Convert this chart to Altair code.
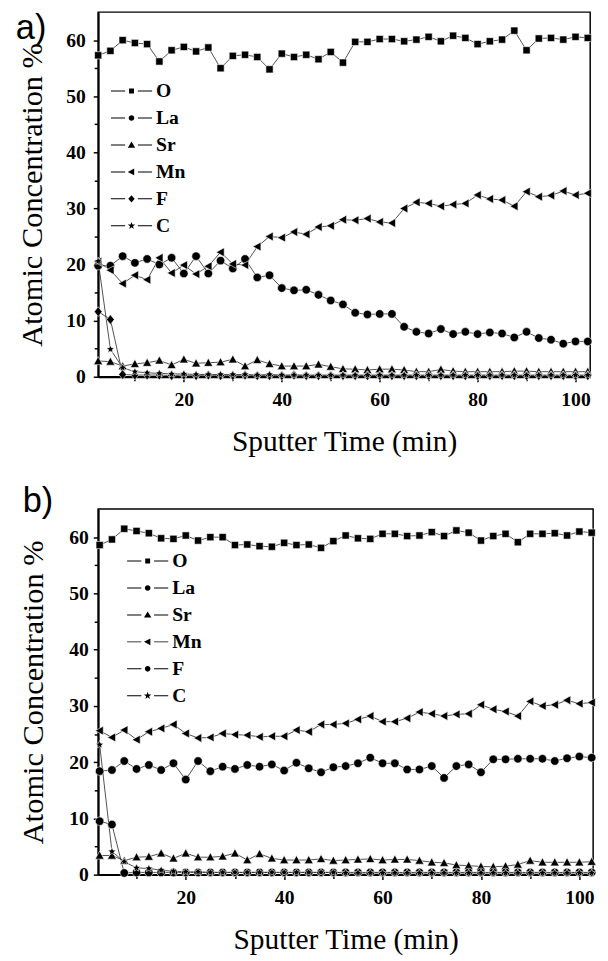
import altair as alt
import pandas as pd

TIME = [2.5, 5, 7.5, 10, 12.5, 15, 17.5, 20, 22.5, 25, 27.5, 30, 32.5, 35, 37.5, 40,
        42.5, 45, 47.5, 50, 52.5, 55, 57.5, 60, 62.5, 65, 67.5, 70, 72.5, 75, 77.5, 80,
        82.5, 85, 87.5, 90, 92.5, 95, 97.5, 100, 102.5]
ELEMENTS = ["O", "La", "Sr", "Mn", "F", "C"]

# ---- panel a) ----
A_O = [57.3, 58.1, 60.0, 59.5, 59.3, 56.2, 58.2, 58.8, 58.0, 58.7,
       55.0, 57.2, 57.4, 57.0, 54.8, 57.6, 57.0, 57.4, 56.6, 57.9,
       56.0, 59.7, 59.7, 60.2, 60.2, 59.8, 60.1, 60.6, 59.8, 60.8,
       60.4, 59.3, 59.8, 60.1, 61.7, 58.2, 60.3, 60.4, 60.1, 60.6, 60.4]
A_LA = [19.8, 19.8, 21.5, 20.3, 21.0, 20.0, 21.2, 18.4, 21.5, 18.4,
        20.7, 19.3, 21.0, 17.7, 18.1, 15.8, 15.4, 15.5, 14.6, 13.6,
        12.9, 11.4, 11.1, 11.2, 11.2, 8.9, 8.0, 7.7, 8.5, 7.6,
        8.0, 7.6, 7.9, 7.7, 7.0, 8.0, 6.9, 6.6, 5.9, 6.3, 6.3]
A_SR = [2.8, 2.7, 1.9, 2.3, 2.5, 2.9, 2.1, 3.1, 2.4, 2.5,
        2.6, 3.1, 1.9, 3.0, 2.3, 1.9, 1.9, 1.9, 2.2, 1.8,
        1.4, 1.35, 1.2, 1.35, 1.35, 1.2, 0.9, 0.9, 1.3, 1.0,
        0.9, 0.9, 0.9, 0.9, 1.0, 1.0, 0.9, 0.9, 0.9, 0.9, 0.9]
A_MN = [20.5, 19.0, 16.6, 18.1, 17.3, 21.2, 18.5, 19.9, 18.3, 19.7,
        22.2, 20.1, 19.9, 23.2, 25.0, 24.8, 25.8, 25.4, 26.7, 26.9,
        28.0, 27.9, 28.2, 27.6, 27.4, 30.0, 31.1, 30.9, 30.4, 30.7,
        30.9, 32.4, 31.7, 31.5, 30.4, 33.0, 32.1, 32.3, 33.1, 32.4, 32.7]
A_F = [11.6, 10.2, 0.4, 0.3, 0.3, 0.3, 0.2, 0.3, 0.2, 0.3,
       0.2, 0.2, 0.3, 0.2, 0.2, 0.2, 0.3, 0.2, 0.2, 0.2,
       0.2, 0.2, 0.2, 0.2, 0.2, 0.2, 0.2, 0.2, 0.2, 0.2,
       0.2, 0.2, 0.2, 0.2, 0.2, 0.2, 0.2, 0.2, 0.2, 0.2, 0.2]
A_C = [20.6, 4.9, 1.6, 0.9, 0.7, 0.6, 0.5, 0.5, 0.4, 0.4,
       0.4, 0.4, 0.4, 0.3, 0.4, 0.3, 0.3, 0.3, 0.3, 0.3,
       0.3, 0.3, 0.3, 0.3, 0.3, 0.3, 0.3, 0.3, 0.3, 0.3,
       0.3, 0.3, 0.3, 0.3, 0.3, 0.3, 0.3, 0.3, 0.3, 0.3, 0.3]

# ---- panel b) ----
B_O = [58.6, 59.6, 61.5, 61.1, 60.7, 59.8, 59.7, 60.3, 59.4, 60.0,
       60.0, 58.6, 58.7, 58.4, 58.3, 59.0, 58.6, 58.7, 58.1, 59.3,
       60.3, 59.8, 59.7, 60.6, 60.6, 60.2, 60.3, 60.9, 60.2, 61.2,
       60.8, 59.4, 60.2, 60.6, 59.1, 60.6, 60.6, 60.7, 60.3, 61.0, 60.8]
B_LA = [18.4, 18.6, 20.2, 18.8, 19.5, 18.6, 19.8, 16.9, 20.2, 18.4,
        19.2, 18.8, 19.5, 19.2, 19.6, 18.5, 19.9, 18.9, 18.2, 19.1,
        19.3, 19.8, 20.8, 19.8, 19.8, 18.7, 18.7, 19.3, 17.2, 19.3,
        19.6, 18.2, 20.5, 20.5, 20.6, 20.6, 20.6, 20.2, 20.7, 21.0, 20.8]
B_SR = [3.4, 3.4, 2.5, 3.1, 3.2, 3.8, 2.9, 3.8, 3.1, 3.1,
        3.25, 3.8, 2.6, 3.7, 2.9, 2.6, 2.6, 2.6, 2.8, 2.5,
        2.6, 2.7, 2.8, 2.6, 2.7, 2.7, 2.5, 2.2, 2.1, 1.7,
        1.6, 1.45, 1.4, 1.5, 1.8, 2.5, 2.2, 2.2, 2.2, 2.2, 2.3]
B_MN = [25.6, 24.4, 25.7, 24.0, 25.4, 26.0, 26.7, 25.1, 24.3, 24.4,
        25.1, 24.9, 24.8, 24.5, 24.6, 24.6, 25.7, 25.4, 26.7, 26.7,
        26.9, 27.6, 28.2, 27.2, 27.2, 27.8, 28.9, 28.6, 28.2, 28.5,
        28.6, 30.2, 29.4, 29.0, 28.2, 30.8, 30.0, 30.2, 31.0, 30.4, 30.6]
B_F = [9.5, 8.9, 0.3, 0.4, 0.4, 0.4, 0.4, 0.4, 0.4, 0.4,
       0.4, 0.4, 0.4, 0.4, 0.4, 0.4, 0.4, 0.4, 0.4, 0.4,
       0.4, 0.4, 0.4, 0.4, 0.4, 0.4, 0.4, 0.4, 0.4, 0.4,
       0.4, 0.4, 0.4, 0.4, 0.4, 0.4, 0.4, 0.4, 0.4, 0.4, 0.4]
B_C = [23.1, 4.1, 2.3, 1.2, 1.1, 0.8, 0.6, 0.5, 0.5, 0.4,
       0.4, 0.4, 0.4, 0.4, 0.4, 0.4, 0.4, 0.4, 0.4, 0.4,
       0.3, 0.3, 0.3, 0.3, 0.3, 0.3, 0.3, 0.3, 0.3, 0.3,
       0.3, 0.3, 0.3, 0.3, 0.3, 0.3, 0.3, 0.3, 0.3, 0.3, 0.3]

SERIES_A = {"O": A_O, "La": A_LA, "Sr": A_SR, "Mn": A_MN, "F": A_F, "C": A_C}
SERIES_B = {"O": B_O, "La": B_LA, "Sr": B_SR, "Mn": B_MN, "F": B_F, "C": B_C}

X_TICKS = [10, 20, 30, 40, 50, 60, 70, 80, 90, 100]
Y_TICKS = [0, 5, 10, 15, 20, 25, 30, 35, 40, 45, 50, 55, 60]

# plot marker paths
SQUARE = "M-0.85,-0.85H0.85V0.85H-0.85Z"
STAR = ("M0,-0.95L0.265,-0.364L0.904,-0.294L0.428,0.139L0.558,0.769L0,0.45"
        "L-0.558,0.769L-0.428,0.139L-0.904,-0.294L-0.265,-0.364Z")
TRI_UP = "M0,-1.05L1.05,0.85L-1.05,0.85Z"
TRI_LEFT = "M-1.05,0L0.85,-1.05L0.85,1.05Z"
DIAMOND = "M0,-1.15L0.92,0L0,1.15L-0.92,0Z"

# legend symbol paths: line - marker - line
LINES = "M-8.4,-0.2H-2.6V0.2H-8.4ZM2.6,-0.2H8.4V0.2H2.6Z"
LG_SQUARE = LINES + "M-1,-1H1V1H-1Z"
LG_CIRCLE = LINES + "M1.15,0A1.15,1.15 0 1,1 -1.15,0A1.15,1.15 0 1,1 1.15,0Z"
LG_TRI_UP = LINES + "M0,-1.4L1.5,1.1L-1.5,1.1Z"
LG_TRI_LEFT = LINES + "M-1.5,0L1.1,-1.4L1.1,1.4Z"
LG_DIAMOND = LINES + "M0,-1.5L1.3,0L0,1.5L-1.3,0Z"
LG_STAR = LINES + ("M0,-1.6L0.376,-0.518L1.522,-0.494L0.608,0.198L0.941,1.294L0,0.64"
                   "L-0.941,1.294L-0.608,0.198L-1.522,-0.494L-0.376,-0.518Z")

SERIF = "Liberation Serif"


def long_frame(series):
    rows = []
    for el in ELEMENTS:
        for t, v in zip(TIME, series[el]):
            rows.append({"time": t, "value": v, "element": el, "series": el})
    return pd.DataFrame(rows)


def x_axis(label_pad, title_pad):
    return alt.Axis(
        values=X_TICKS,
        labelExpr="datum.value % 20 === 0 ? datum.label : ''",
        tickSize={"condition": {"test": "datum.value % 20 === 0", "value": 5}, "value": 4},
        tickWidth=1.5, tickColor="black", domainColor="black", domainWidth=2,
        grid=False, labelFont=SERIF, labelFontWeight="bold", labelFontSize=20,
        labelColor="black", labelPadding=label_pad, labelOverlap=False, labelFlush=False,
        titleFont=SERIF, titleFontSize=30, titleFontWeight="normal",
        titleColor="black", titlePadding=title_pad)


def y_axis(label_pad, title_pad):
    return alt.Axis(
        values=Y_TICKS,
        labelExpr="datum.value % 10 === 0 ? datum.label : ''",
        tickSize={"condition": {"test": "datum.value % 10 === 0", "value": 5}, "value": 4},
        tickWidth=1.5, tickColor="black", domainColor="black", domainWidth=2,
        grid=False, labelFont=SERIF, labelFontWeight="bold", labelFontSize=20,
        labelColor="black", labelPadding=label_pad, labelOverlap=False, labelFlush=False,
        titleFont=SERIF, titleFontSize=31, titleFontWeight="normal",
        titleColor="black", titlePadding=title_pad)


def panel(series, label, point_shapes, legend_shapes, x_domain, width, height,
          legend_x, legend_y, label_x, label_y, spacer_x,
          ylab_pad, ytitle_pad, xlab_pad, xtitle_pad):
    df = long_frame(series)
    base = alt.Chart(df)
    x = alt.X("time:Q", title="Sputter Time (min)",
              scale=alt.Scale(domain=x_domain, nice=False, zero=False),
              axis=x_axis(xlab_pad, xtitle_pad))
    y = alt.Y("value:Q", title="Atomic Concentration %",
              scale=alt.Scale(domain=[0, 65], nice=False),
              axis=y_axis(ylab_pad, ytitle_pad))
    lines = base.mark_line(color="#222222", strokeWidth=0.8).encode(
        x=x, y=y, detail="element:N", order="time:Q")
    points = base.mark_point(filled=True, fill="black", stroke="white",
                             strokeWidth=0.6, size=75, opacity=1).encode(
        x=x, y=y,
        shape=alt.Shape("element:N", scale=alt.Scale(domain=ELEMENTS, range=point_shapes),
                        legend=None))
    legend_layer = base.transform_filter("datum.value < -100").mark_point(
        filled=True, fill="black", opacity=1).encode(
        x=x, y=y,
        shape=alt.Shape("series:N", scale=alt.Scale(domain=ELEMENTS, range=legend_shapes),
                        legend=alt.Legend(
                            title=None, orient="none", legendX=legend_x, legendY=legend_y,
                            symbolSize=25, labelFont=SERIF, labelFontWeight="bold",
                            labelFontSize=20, labelColor="black", labelOffset=15,
                            rowPadding=7.5, padding=0,
                            symbolFillColor="black", symbolStrokeColor="black",
                            symbolStrokeWidth=0, symbolOpacity=1)))
    text = alt.Chart(pd.DataFrame({"lab": [label]})).mark_text(
        align="left", baseline="alphabetic", font="Liberation Sans", fontSize=35,
        color="black").encode(text="lab:N", x=alt.value(label_x), y=alt.value(label_y))
    spacer = alt.Chart(pd.DataFrame({"lab": [label]})).mark_text(
        align="left", baseline="alphabetic", font="Liberation Sans", fontSize=35,
        opacity=0).encode(text="lab:N", x=alt.value(spacer_x), y=alt.value(label_y))
    return alt.layer(lines, points, legend_layer, text, spacer).resolve_scale(
        shape="independent").properties(width=width, height=height)


panel_a = panel(SERIES_A, "a)",
                [SQUARE, "circle", TRI_UP, TRI_LEFT, DIAMOND, STAR],
                [LG_SQUARE, LG_CIRCLE, LG_TRI_UP, LG_TRI_LEFT, LG_DIAMOND, LG_STAR],
                [2.5, 103], 502, 372, 24, 70.5, -84, 27, -91, 8, 18, 8, 18)
panel_b = panel(SERIES_B, "b)",
                [SQUARE, "circle", TRI_UP, TRI_LEFT, "circle", STAR],
                [LG_SQUARE, LG_CIRCLE, LG_TRI_UP, LG_TRI_LEFT, LG_CIRCLE, LG_STAR],
                [2.2, 102.8], 505, 373, 40.5, 43, -77, 3, -77, 5, 20, 8, 18)

chart = alt.vconcat(panel_a, panel_b, spacing=27).resolve_scale(
    x="independent", y="independent", shape="independent").properties(
    padding={"left": 0, "top": -7.5, "right": 2, "bottom": 2},
    background="white").configure_view(stroke="black", strokeWidth=1.5)

chart.save("out.html", embed_options={"renderer": "svg", "actions": False})
